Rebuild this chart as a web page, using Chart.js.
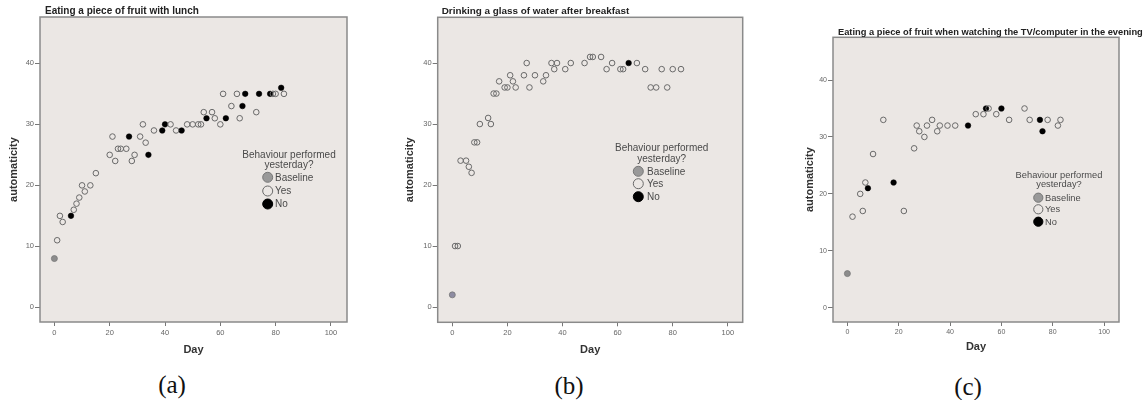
<!DOCTYPE html>
<html><head><meta charset="utf-8">
<script src="https://cdn.jsdelivr.net/npm/chart.js@4.4.0/dist/chart.umd.min.js"></script>
<style>
html,body{margin:0;padding:0;background:#fff;width:1147px;height:400px;overflow:hidden;}
canvas{position:absolute;top:0;}
.cap{position:absolute;font-family:"Liberation Serif",serif;font-size:25px;color:#111;transform:translate(-50%,-50%);white-space:nowrap;}
</style></head><body>
<canvas id="ca" style="left:0px" width="380" height="362"></canvas>
<canvas id="cb" style="left:390px" width="380" height="362"></canvas>
<canvas id="cc" style="left:770px" width="377" height="362"></canvas>
<div class="cap" style="left:172px;top:385px">(a)</div>
<div class="cap" style="left:569px;top:386px">(b)</div>
<div class="cap" style="left:968px;top:387px">(c)</div>
<script>
// ---- tick labels / texts ----
const xTicks = [0, 20, 40, 60, 80, 100];
const yTicks = [0, 10, 20, 30, 40];
const legendTitle = ['Behaviour performed', 'yesterday?'];
const legendLabels = ['Baseline', 'Yes', 'No'];
const panelTitles = [
  'Eating a piece of fruit with lunch',
  'Drinking a glass of water after breakfast',
  'Eating a piece of fruit when watching the TV/computer in the evening'
];

// ---- panel (a) ----
const aBaseDay = [0];
const aBaseAuto = [8];
const aYesDay = [1,2,3,7,8,9,10,11,13,15,20,21,22,23,24,26,28,29,31,32,33,36,42,44,48,50,52,53,54,57,58,60,61,64,66,67,73,79,80,83];
const aYesAuto = [11,15,14,16,17,18,20,19,20,22,25,28,24,26,26,26,24,25,28,30,27,29,30,29,30,30,30,30,32,32,31,30,35,33,35,31,32,35,35,35];
const aNoDay = [6,27,34,39,40,46,55,62,68,69,74,78,82];
const aNoAuto = [15,28,25,29,30,29,31,31,33,35,35,35,36];

// ---- panel (b) ----
const bBaseDay = [0];
const bBaseAuto = [2];
const bYesDay = [1,2,3,5,6,7,8,9,10,13,14,15,16,17,19,20,21,22,23,26,27,28,30,33,34,36,37,38,41,43,48,50,51,54,56,58,61,62,67,70,72,74,76,78,80,83];
const bYesAuto = [10,10,24,24,23,22,27,27,30,31,30,35,35,37,36,36,38,37,36,38,40,36,38,37,38,40,39,40,39,40,40,41,41,41,39,40,39,39,40,39,36,36,39,36,39,39];
const bNoDay = [64];
const bNoAuto = [40];

// ---- panel (c) ----
const cBaseDay = [0];
const cBaseAuto = [6];
const cYesDay = [2,5,6,7,10,14,22,26,27,28,30,31,33,35,36,39,42,50,53,55,58,63,69,71,78,82,83];
const cYesAuto = [16,20,17,22,27,33,17,28,32,31,30,32,33,31,32,32,32,34,34,35,34,33,35,33,33,32,33];
const cNoDay = [8,18,47,54,60,75,76];
const cNoAuto = [21,22,32,35,35,33,31];

const zip = (xs, ys) => xs.map((x, i) => ({x: x, y: ys[i]}));
const FONT = '"Liberation Sans", Arial, sans-serif';

const framePlugin = {
  id: 'frame',
  beforeDraw(chart) {
    const {ctx, chartArea: a} = chart;
    ctx.save();
    ctx.fillStyle = '#ebe7e4';
    ctx.fillRect(a.left, a.top, a.right - a.left, a.bottom - a.top);
    ctx.restore();
  },
  afterDatasetsDraw(chart) {
    const {ctx, chartArea: a} = chart;
    ctx.save();
    ctx.strokeStyle = '#8a8a8a';
    ctx.lineWidth = 1.5;
    ctx.strokeRect(a.left, a.top, a.right - a.left, a.bottom - a.top);
    ctx.restore();
  }
};

const textPlugin = {
  id: 'panelText',
  afterDraw(chart, args, o) {
    const ctx = chart.ctx;
    ctx.save();
    ctx.font = 'bold ' + o.titleSize + 'px ' + FONT;
    ctx.fillStyle = '#222';
    ctx.textAlign = 'left';
    ctx.textBaseline = 'middle';
    ctx.fillText(o.title, o.titleX, o.titleY);
    ctx.font = o.size + 'px ' + FONT;
    ctx.fillStyle = '#4a4a4a';
    ctx.textAlign = 'center';
    legendTitle.forEach((t, i) => ctx.fillText(t, o.cx, o.ty[i]));
    ctx.textAlign = 'left';
    legendLabels.forEach((lab, i) => {
      const ds = chart.data.datasets[i];
      ctx.beginPath();
      ctx.arc(o.mx, o.my[i], o.r, 0, Math.PI * 2);
      ctx.fillStyle = o.legendFill[i];
      ctx.fill();
      ctx.lineWidth = 1;
      ctx.strokeStyle = ds.borderColor;
      ctx.stroke();
      ctx.fillStyle = '#4a4a4a';
      ctx.fillText(lab, o.tx, o.my[i] + 0.5);
    });
    ctx.restore();
  }
};

function makePanel(id, base, yes, no, L) {
  new Chart(document.getElementById(id), {
    type: 'scatter',
    data: {
      datasets: [
        {label: 'Baseline', data: base, pointRadius: 3, backgroundColor: L.baseColor, borderColor: '#777', borderWidth: 0.8},
        {label: 'Yes', data: yes, pointRadius: 2.8, backgroundColor: 'rgba(0,0,0,0)', borderColor: '#6a6a6a', borderWidth: 1},
        {label: 'No', data: no, pointRadius: 2.8, backgroundColor: '#000', borderColor: '#000', borderWidth: 0.5}
      ]
    },
    options: {
      responsive: false,
      animation: false,
      devicePixelRatio: 1,
      layout: {padding: {left: 0, top: L.top, right: L.right, bottom: 0}},
      plugins: {
        legend: {display: false},
        tooltip: {enabled: false},
        panelText: L.text
      },
      scales: {
        x: {
          type: 'linear', min: L.xmin, max: L.xmax,
          afterBuildTicks: s => { s.ticks = xTicks.map(v => ({value: v})); },
          afterFit: s => { s.height = L.xh; },
          ticks: {font: {size: L.tick, family: FONT}, color: '#666', padding: 2, maxRotation: 0},
          grid: {display: true, drawOnChartArea: false, drawTicks: true, tickLength: 4, tickColor: '#777', tickWidth: 1},
          border: {display: false},
          title: {display: true, text: 'Day', color: '#333', font: {size: 11, weight: 'bold', family: FONT}, padding: {top: 0, bottom: L.dayPad}}
        },
        y: {
          type: 'linear', min: L.ymin, max: L.ymax,
          afterBuildTicks: s => { s.ticks = yTicks.map(v => ({value: v})); },
          afterFit: s => { s.width = L.yw; },
          ticks: {font: {size: L.tick, family: FONT}, color: '#666', padding: 1},
          grid: {display: true, drawOnChartArea: false, drawTicks: true, tickLength: 5, tickColor: '#777', tickWidth: 1},
          border: {display: false},
          title: {display: true, text: 'automaticity', color: '#333', font: {size: 11, weight: 'bold', family: FONT}, padding: {top: L.autoPad, bottom: 0}}
        }
      }
    },
    plugins: [framePlugin, textPlugin]
  });
}

makePanel('ca', zip(aBaseDay, aBaseAuto), zip(aYesDay, aYesAuto), zip(aNoDay, aNoAuto), {
  baseColor: '#8c8c8c', top: 17, right: 33, xh: 40, yw: 40, xmin: -5.2, xmax: 105.8, ymin: -2.4, ymax: 47.6,
  tick: 7.5, dayPad: 5, autoPad: 7,
  text: {title: panelTitles[0], titleSize: 10, titleX: 45, titleY: 11.5, size: 10, cx: 289, ty: [155, 165.5],
         mx: 267.7, my: [177.3, 191, 204], r: 5, tx: 275, legendFill: ['#999', 'rgba(0,0,0,0)', '#000']}
});
makePanel('cb', zip(bBaseDay, bBaseAuto), zip(bYesDay, bYesAuto), zip(bNoDay, bNoAuto), {
  baseColor: '#8e8ca2', top: 17.3, right: 27.3, xh: 39.7, yw: 47.7, xmin: -5.3, xmax: 105.4, ymin: -2.5, ymax: 47.5,
  tick: 7.5, dayPad: 5, autoPad: 13,
  text: {title: panelTitles[1], titleSize: 9.9, titleX: 51.7, titleY: 11.5, size: 10, cx: 271.7, ty: [148, 159.3],
         mx: 248.3, my: [171.3, 183.7, 196.7], r: 5, tx: 257, legendFill: ['#999', 'rgba(0,0,0,0)', '#000']}
});
makePanel('cc', zip(cBaseDay, cBaseAuto), zip(cYesDay, cYesAuto), zip(cNoDay, cNoAuto), {
  baseColor: '#8c8c8c', top: 37.3, right: 28, xh: 40, yw: 63, xmin: -5.6, xmax: 105.8, ymin: -2.5, ymax: 47.5,
  tick: 7, dayPad: 8.5, autoPad: 33,
  text: {title: panelTitles[2], titleSize: 9.3, titleX: 68, titleY: 32, size: 9.3, cx: 289, ty: [175.7, 184],
         mx: 268.3, my: [197.7, 209.3, 221.7], r: 4.6, tx: 275, legendFill: ['#999', 'rgba(0,0,0,0)', '#000']}
});
</script>
</body></html>
